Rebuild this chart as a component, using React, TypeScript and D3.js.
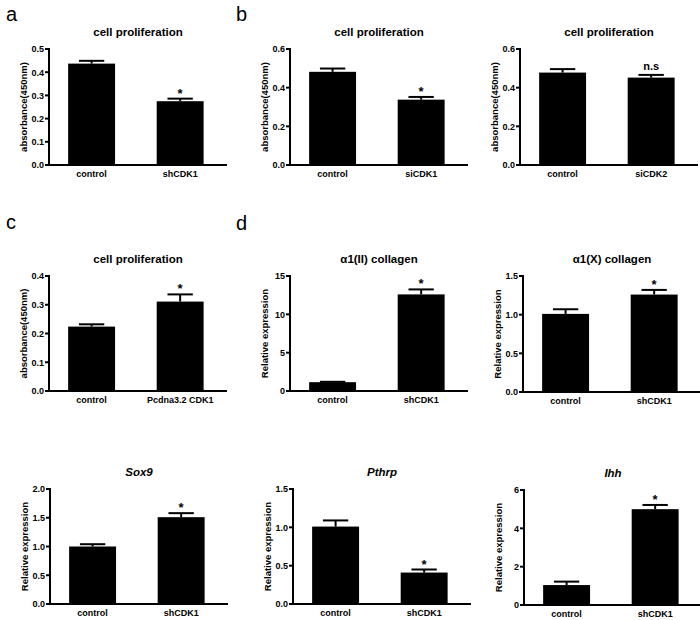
import React from "react";
import * as d3 from "d3";

// ---------- data ----------
const titles = [
  "cell proliferation", "cell proliferation", "cell proliferation",
  "cell proliferation", "α1(II) collagen", "α1(X) collagen",
  "Sox9", "Pthrp", "Ihh",
];
const italicTitles = [false, false, false, false, false, false, true, true, true];
const yLabels = [
  "absorbance(450nm)", "absorbance(450nm)", "absorbance(450nm)",
  "absorbance(450nm)", "Relative expression", "Relative expression",
  "Relative expression", "Relative expression", "Relative expression",
];
const categories = [
  ["control", "shCDK1"], ["control", "siCDK1"], ["control", "siCDK2"],
  ["control", "Pcdna3.2 CDK1"], ["control", "shCDK1"], ["control", "shCDK1"],
  ["control", "shCDK1"], ["control", "shCDK1"], ["control", "shCDK1"],
];
const means = [
  [0.437, 0.275], [0.482, 0.338], [0.478, 0.452],
  [0.224, 0.311], [1.15, 12.6], [1.01, 1.26],
  [1.0, 1.51], [1.01, 0.41], [1.04, 5.0],
];
const errors = [
  [0.012, 0.011], [0.017, 0.014], [0.018, 0.014],
  [0.008, 0.025], [0.05, 0.65], [0.06, 0.06],
  [0.04, 0.07], [0.08, 0.04], [0.18, 0.22],
];
const yTicks = [
  [0, 0.1, 0.2, 0.3, 0.4, 0.5], [0, 0.2, 0.4, 0.6], [0, 0.2, 0.4, 0.6],
  [0, 0.1, 0.2, 0.3, 0.4], [0, 5, 10, 15], [0, 0.5, 1.0, 1.5],
  [0, 0.5, 1.0, 1.5, 2.0], [0, 0.5, 1.0, 1.5], [0, 2, 4, 6],
];
const tickDecimals = [1, 1, 1, 1, 0, 1, 1, 1, 0];
const marks = [
  ["", "*"], ["", "*"], ["", "n.s"],
  ["", "*"], ["", "*"], ["", "*"],
  ["", "*"], ["", "*"], ["", "*"],
];
const panelLetters = ["a", "b", "c", "d"];

// ---------- layout ----------
const axisX = [49, 290, 520, 49, 290, 523, 50, 293, 524];
const plotTop = [49, 49, 49, 276, 276, 276, 489, 489, 490];
const plotBottom = [165, 165, 165, 391, 391, 392, 604, 604, 605];
const axisLen = 178;
const letterPos = [[6, 21], [236, 21], [6, 229], [236, 230]];

const FONT = "'Liberation Sans', Arial, Helvetica, sans-serif";

function Panel({ i }: { i: number }) {
  const x0 = axisX[i];
  const top = plotTop[i];
  const bottom = plotBottom[i];
  const ticks = yTicks[i];
  const y = d3.scaleLinear().domain([0, ticks[ticks.length - 1]]).range([bottom, top]);
  const x = d3
    .scaleBand<string>()
    .domain(categories[i])
    .range([x0, x0 + axisLen])
    .paddingInner(0.47)
    .paddingOuter(0.24)
    .align(0.45);
  const bw = x.bandwidth();
  const fmt = d3.format(`.${tickDecimals[i]}f`);
  const midY = (top + bottom) / 2;
  const labelX = x0 - 22;
  return (
    <g>
      <text
        x={x0 + axisLen / 2}
        y={top - 13}
        textAnchor="middle"
        fontFamily={FONT}
        fontWeight="bold"
        fontStyle={italicTitles[i] ? "italic" : "normal"}
        fontSize={11.5}
      >
        {titles[i]}
      </text>
      <text
        transform={`translate(${labelX},${midY}) rotate(-90)`}
        textAnchor="middle"
        fontFamily={FONT}
        fontWeight="bold"
        fontSize={9.5}
      >
        {yLabels[i]}
      </text>
      {categories[i].map((c, k) => {
        const bx = x(c)!;
        const v = means[i][k];
        const e = errors[i][k];
        const cx = bx + bw / 2;
        const capW = bw * 0.54;
        return (
          <g key={c + k}>
            <rect x={bx} y={y(v)} width={bw} height={bottom - y(v)} fill="#000" />
            <line x1={cx} x2={cx} y1={y(v)} y2={y(v + e)} stroke="#000" strokeWidth={2} />
            <line x1={cx - capW / 2} x2={cx + capW / 2} y1={y(v + e)} y2={y(v + e)} stroke="#000" strokeWidth={2} />
            {marks[i][k] && (
              <text
                x={cx}
                y={y(v + e) - (marks[i][k] === "*" ? 1 : 5)}
                textAnchor="middle"
                fontFamily={FONT}
                fontWeight="bold"
                fontSize={marks[i][k] === "*" ? 13 : 11}
              >
                {marks[i][k]}
              </text>
            )}
            <text
              x={cx}
              y={bottom + 12}
              textAnchor="middle"
              fontFamily={FONT}
              fontWeight="bold"
              fontSize={9}
            >
              {c}
            </text>
          </g>
        );
      })}
      {ticks.map((t) => (
        <g key={t}>
          <line x1={x0 - 4} x2={x0} y1={y(t)} y2={y(t)} stroke="#000" strokeWidth={2} />
          <text
            x={x0 - 5}
            y={y(t) + 3.3}
            textAnchor="end"
            fontFamily={FONT}
            fontWeight="bold"
            fontSize={9}
          >
            {fmt(t)}
          </text>
        </g>
      ))}
      <line x1={x0} x2={x0} y1={top - 1} y2={bottom + 1} stroke="#000" strokeWidth={2} />
      <line x1={x0 - 1} x2={x0 + axisLen} y1={bottom} y2={bottom} stroke="#000" strokeWidth={2} />
    </g>
  );
}

export default function App() {
  return (
    <svg
      width={700}
      height={620}
      style={{ position: "absolute", left: 0, top: 0, background: "#fff" }}
    >
      <rect width={700} height={620} fill="#fff" />
      {panelLetters.map((l, k) => (
        <text key={l} x={letterPos[k][0]} y={letterPos[k][1]} fontFamily={FONT} fontSize={20}>
          {l}
        </text>
      ))}
      {titles.map((_, i) => (
        <Panel key={i} i={i} />
      ))}
    </svg>
  );
}
